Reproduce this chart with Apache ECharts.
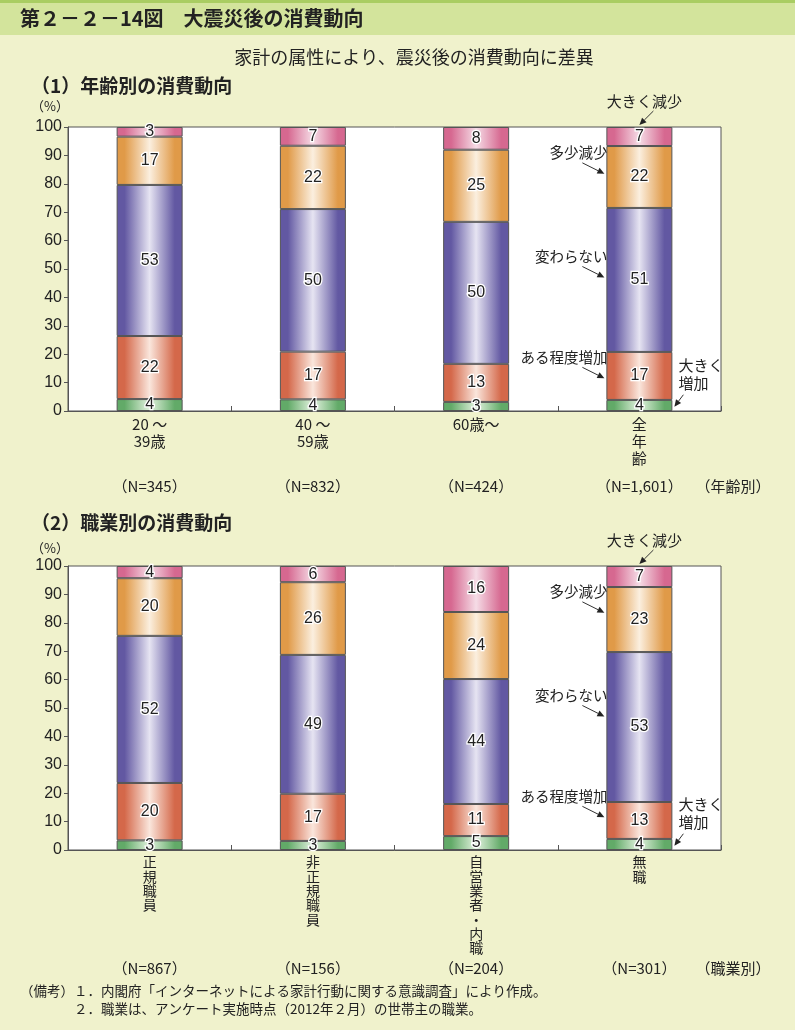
<!DOCTYPE html>
<html><head><meta charset="utf-8">
<script src="https://cdn.jsdelivr.net/npm/echarts@6/dist/echarts.min.js"></script>
<style>html,body{margin:0;padding:0;background:#f0f2cc}#c{width:795px;height:1030px}</style>
</head><body><div id="c"></div><script>
// ---- data ----
const seriesNames = ['大きく増加','ある程度増加','変わらない','多少減少','大きく減少'];
const ageCategories = ['20 ～\n39歳','40 ～\n59歳','60歳～','全\n年\n齢'];
const ageN = ['（N=345）','（N=832）','（N=424）','（N=1,601）'];
const ageBigUp    = [4.2, 4.1, 3.2, 3.9];
const ageSomeUp   = [22.2, 16.8, 13.4, 16.9];
const ageSame     = [53.2, 50.2, 50.0, 50.7];
const ageSomeDown = [17.0, 22.3, 25.4, 21.8];
const ageBigDown  = [3.4, 6.6, 8.0, 6.7];
const jobCategories = ['正\n規\n職\n員','非\n正\n規\n職\n員','自\n営\n業\n者\n・\n内\n職','無\n職'];
const jobN = ['（N=867）','（N=156）','（N=204）','（N=301）'];
const jobBigUp    = [3.4, 3.2, 4.9, 3.9];
const jobSomeUp   = [20.2, 16.6, 11.3, 13.0];
const jobSame     = [51.8, 48.9, 44.0, 52.8];
const jobSomeDown = [20.3, 25.6, 23.6, 22.9];
const jobBigDown  = [4.3, 5.7, 16.2, 7.4];
const annotationLabels = ['大きく\n増加','ある程度増加','変わらない','多少減少','大きく減少'];
const annotationTargets = [1.5, 11.5, 47, 83.5, 100];

// ---- styles ----
const baseColors = ['#62aa68','#d4684a','#6258a2','#e09a48','#d66890'];
const lightColors = ['#e2f2de','#fae6dc','#e6e4f2','#fbefdf','#f5dce6'];
const CJK = '"Noto Sans CJK JP", sans-serif';
const LAT = '"Liberation Sans", Arial, sans-serif';
function grad(i){
  return {type:'linear',x:0,y:0,x2:1,y2:0,colorStops:[
    {offset:0,color:baseColors[i]},{offset:0.12,color:baseColors[i]},
    {offset:0.5,color:lightColors[i]},
    {offset:0.88,color:baseColors[i]},{offset:1,color:baseColors[i]}]};
}
const chart = echarts.init(document.getElementById('c'), null, {renderer:'canvas'});
const grids = [
  {left:68, top:127, width:653, height:284, show:true, backgroundColor:'#fff', borderColor:'#555', borderWidth:1},
  {left:68, top:566, width:653, height:284, show:true, backgroundColor:'#fff', borderColor:'#555', borderWidth:1}
];
function xAxis(idx, cats, fs, lh, margin){
  return {type:'category', gridIndex:idx, data:cats,
    axisLine:{lineStyle:{color:'#555'}},
    axisTick:{show:true, inside:true, length:5, lineStyle:{color:'#555'}},
    axisLabel:{color:'#222', fontSize:fs, lineHeight:lh, margin:margin, fontFamily:CJK, interval:0}};
}
function yAxis(idx){
  return {type:'value', gridIndex:idx, min:0, max:100, interval:10,
    axisLine:{show:true, lineStyle:{color:'#555'}},
    axisTick:{show:true, length:4, lineStyle:{color:'#555'}},
    splitLine:{show:false},
    axisLabel:{color:'#222', fontSize:16, fontFamily:LAT, margin:6}};
}
function makeSeries(idx, arrs){
  return arrs.map((d,i)=>({
    type:'bar', name:seriesNames[i], xAxisIndex:idx, yAxisIndex:idx, stack:'s'+idx,
    barWidth:66, data:d,
    itemStyle:{color:grad(i), borderColor:'#555', borderWidth:1},
    label:{show:true, position:'inside', color:'#222', fontSize:16, fontFamily:LAT,
      textBorderColor:'#fff', textBorderWidth:2.5,
      formatter:p=>Math.round(p.value)},
    emphasis:{disabled:true}, animation:false
  }));
}
const option = {
  backgroundColor:'#f0f2cc',
  animation:false,
  grid:grids,
  xAxis:[xAxis(0, ageCategories, 15, 17, 5), xAxis(1, jobCategories, 14, 14.3, 5)],
  yAxis:[yAxis(0), yAxis(1)],
  series:[...makeSeries(0,[ageBigUp,ageSomeUp,ageSame,ageSomeDown,ageBigDown]),
          ...makeSeries(1,[jobBigUp,jobSomeUp,jobSame,jobSomeDown,jobBigDown])]
};
chart.setOption(option);

// ---- decorations ----
const g = [];
g.push({type:'rect', shape:{x:0,y:0,width:795,height:35}, style:{fill:'#d3e49c'}, z:-1});
g.push({type:'rect', shape:{x:0,y:0,width:795,height:3}, style:{fill:'#a9cd62'}, z:-1});
function txt(t, x, y, font, align, va){
  return {type:'text', x:x, y:y, style:{text:t, font:font, fill:'#222',
    align:align||'left', verticalAlign:va||'middle', textAlign:align||'left', textVerticalAlign:va||'middle', lineHeight:18}};
}
g.push(txt('第２－２－14図　大震災後の消費動向', 20, 18, 'bold 20px '+CJK));
g.push(txt('家計の属性により、震災後の消費動向に差異', 414, 57, '18px '+CJK, 'center'));
g.push(txt('（1）年齢別の消費動向', 31, 86, 'bold 19px '+CJK));
g.push(txt('（2）職業別の消費動向', 31, 523, 'bold 19px '+CJK));
g.push(txt('（%）', 50, 106, '13px '+CJK, 'center'));
g.push(txt('（%）', 50, 548, '13px '+CJK, 'center'));
g.push(txt('（年齢別）', 733, 486, '15px '+CJK, 'center'));
g.push(txt('（職業別）', 733, 968, '15px '+CJK, 'center'));
g.push(txt('（備考）１．内閣府「インターネットによる家計行動に関する意識調査」により作成。', 20, 991, '13.5px '+CJK));
g.push(txt('２．職業は、アンケート実施時点（2012年２月）の世帯主の職業。', 74, 1009, '13.5px '+CJK));

function arrow(x1,y1,x2,y2){
  const a = Math.atan2(y2-y1, x2-x1), L=7, W=3.2;
  const bx = x2 - L*Math.cos(a), by = y2 - L*Math.sin(a);
  const px = -Math.sin(a)*W, py = Math.cos(a)*W;
  g.push({type:'line', shape:{x1:x1,y1:y1,x2:bx,y2:by}, style:{stroke:'#333', lineWidth:1}, z:10});
  g.push({type:'polygon', shape:{points:[[x2,y2],[bx+px,by+py],[bx-px,by-py]]}, style:{fill:'#222'}, z:10});
}
[[0, ageN, 486],[1, jobN, 968]].forEach(([gi, ns, ny])=>{
  ns.forEach((n,ci)=>{
    const p = chart.convertToPixel({xAxisIndex:gi, yAxisIndex:gi}, [ci, 0]);
    g.push(txt(n, p[0], ny, '15px '+CJK, 'center'));
  });
  const last = ns.length-1;
  const cx = chart.convertToPixel({xAxisIndex:gi, yAxisIndex:gi}, [last, 0])[0];
  const left = cx-33, right = cx+33;
  const yv = v => chart.convertToPixel({xAxisIndex:gi, yAxisIndex:gi}, [last, v])[1];
  // top: 大きく減少
  const yt = yv(annotationTargets[4]);
  g.push(txt(annotationLabels[4], cx+5, yt-26, '15px '+CJK, 'center'));
  arrow(cx+14, yt-16, cx, yt-2);
  // middle ones on left side
  [1,2,3].forEach(i=>{
    const ty = yv(annotationTargets[i]);
    g.push(txt(annotationLabels[i], left+1, ty-21, '14.5px '+CJK, 'right'));
    arrow(left-24, ty-11, left-2, ty);
  });
  // bottom right: 大きく増加
  const yb = yv(annotationTargets[0]);
  g.push({type:'text', x:right+6, y:yb-50, style:{text:annotationLabels[0], font:'15px '+CJK, fill:'#222', lineHeight:18, align:'left', verticalAlign:'top', textAlign:'left', textVerticalAlign:'top'}});
  arrow(right+11, yb-12, right+2, yb);
});
chart.setOption({graphic:g});
</script></body></html>
